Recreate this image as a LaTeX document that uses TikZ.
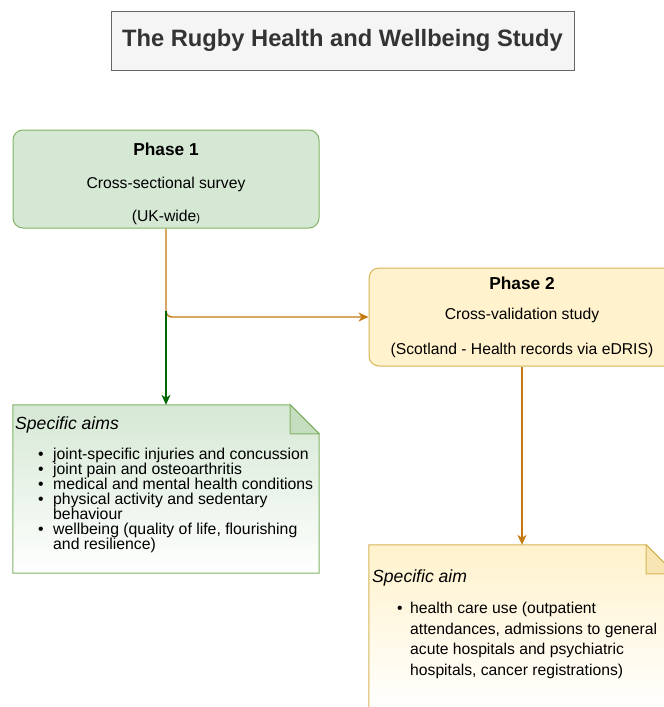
\documentclass[tikz,border=0pt]{standalone}
\usepackage{fontspec}
\setmainfont{Liberation Sans}
\usetikzlibrary{arrows.meta}
\definecolor{greenfill}{HTML}{D5E8D4}
\definecolor{greenline}{HTML}{82B366}
\definecolor{yellowfill}{HTML}{FFF2CC}
\definecolor{yellowline}{HTML}{D6B656}
\definecolor{orangeflow}{HTML}{C47A0F}
\definecolor{darkgreen}{HTML}{006600}
\definecolor{titlefill}{HTML}{F5F5F5}
\definecolor{titleline}{HTML}{666666}
\definecolor{titletext}{HTML}{333333}
\newcommand{\bul}{\makebox[15pt][l]{\textbullet}}
\newcommand{\nobul}{\hspace*{15pt}}
\begin{document}
\begin{tikzpicture}[x=1pt,y=-1pt,
  titlebox/.style={draw=titleline, fill=titlefill, line width=1pt, minimum width=463pt, minimum height=59pt, inner sep=0pt, font=\fontsize{23.7}{28}\selectfont\bfseries, text=titletext},
  phasebox/.style={rounded corners=10pt, line width=1pt, minimum width=306pt, minimum height=98pt, inner sep=0pt, align=center},
  notebox/.style={minimum width=306pt, minimum height=168pt, inner sep=0pt},
  flow/.style={line width=1.4pt, -{Stealth[length=10pt,width=9pt,inset=3pt]}},
  headtext/.style={anchor=base west, inner sep=0pt, font=\fontsize{17.6}{18}\selectfont\itshape},
  listtext/.style={anchor=base west, inner sep=0pt, align=left}
]
\clip (0,0) rectangle (664,707);
\fill[white] (0,0) rectangle (664,707);

\node[titlebox] (title) at (342.5,40.5) {The Rugby Health and Wellbeing Study};

\node[phasebox, draw=greenline, fill=greenfill, font=\fontsize{15.7}{33}\selectfont] (p1) at (166,179)
  {\rule{0pt}{23pt}{\fontsize{17.3}{17}\selectfont\bfseries Phase 1}\\ Cross-sectional survey\\ (UK-wide{\fontsize{11}{11}\selectfont)}};

\node[phasebox, draw=yellowline, fill=yellowfill, font=\fontsize{15.7}{30}\selectfont] (p2) at (522,317)
  {{\fontsize{17.3}{17}\selectfont\bfseries Phase 2}\\ Cross-validation study\\[5pt] (Scotland - Health records via eDRIS)};

% note 1
\node[notebox] (n1) at (166,489) {};
\path[draw=greenline, line width=1pt, top color=greenfill, bottom color=white]
  (n1.north west) -- ([xshift=-29pt]n1.north east) -- ([yshift=-29pt]n1.north east) -- (n1.south east) -- (n1.south west) -- cycle;
\path[draw=greenline, line width=1pt, fill=greenfill!80!greenline]
  ([xshift=-29pt]n1.north east) -- ([yshift=-29pt]n1.north east) -- ([xshift=-29pt,yshift=-29pt]n1.north east) -- cycle;
\node[headtext] (n1head) at (15,429) {Specific aims};
\node[listtext, font=\fontsize{15.8}{15}\selectfont] (n1list) at (38,549)
  {\bul joint-specific injuries and concussion\\
   \bul joint pain and osteoarthritis\\
   \bul medical and mental health conditions\\
   \bul physical activity and sedentary\\
   \nobul behaviour\\
   \bul wellbeing (quality of life, flourishing\\
   \nobul and resilience)};

% note 2
\node[notebox] (n2) at (522,629) {};
\path[draw=yellowline, line width=1pt, top color=yellowfill, bottom color=white]
  (n2.north west) -- ([xshift=-29pt]n2.north east) -- ([yshift=-29pt]n2.north east) -- (n2.south east) -- (n2.south west) -- cycle;
\path[draw=yellowline, line width=1pt, fill=yellowfill!80!yellowline]
  ([xshift=-29pt]n2.north east) -- ([yshift=-29pt]n2.north east) -- ([xshift=-29pt,yshift=-29pt]n2.north east) -- cycle;
\node[headtext] (n2head) at (372,582) {Specific aim};
\node[listtext, font=\fontsize{15.7}{20.7}\selectfont] (n2list) at (397,613.5)
  {\begin{tabular}[t]{@{}p{13pt}@{}l@{}}
  \textbullet & health care use (outpatient\\
   & attendances, admissions to general\\
   & acute hospitals and psychiatric\\
   & hospitals, cancer registrations)
  \end{tabular}};

% connectors
\coordinate (split) at (166,311);
\draw[flow, orangeflow, rounded corners=6pt] (p1.south) |- (p2.west);
\draw[flow, darkgreen] (split) -- (n1.north);
\draw[flow, orangeflow] (p2.south) -- (n2.north);
\end{tikzpicture}
\end{document}
